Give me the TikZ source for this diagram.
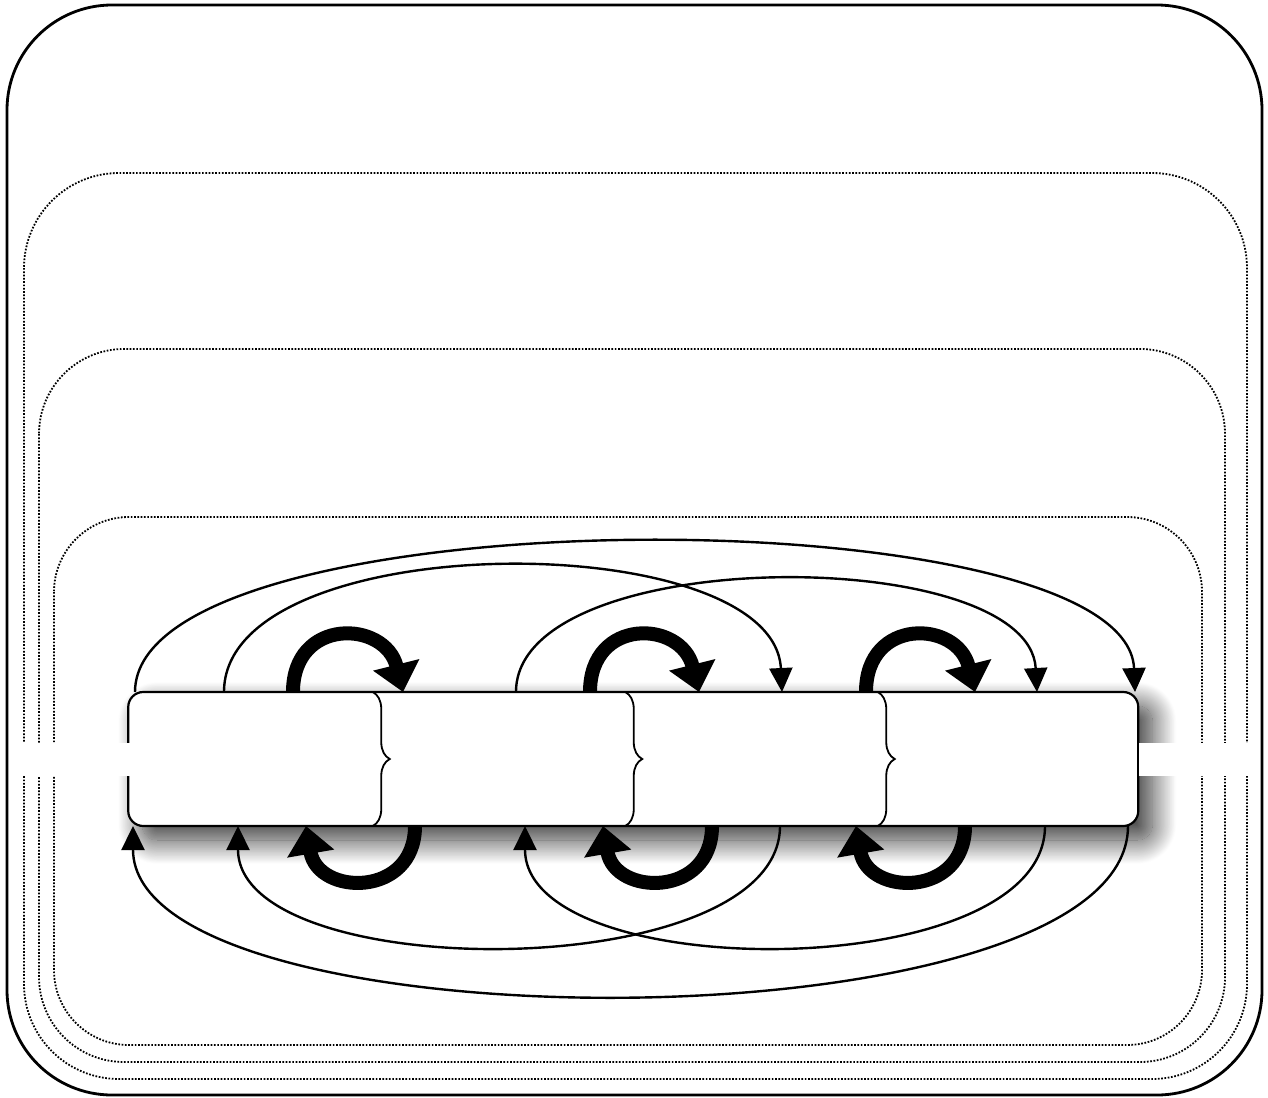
\documentclass[tikz,border=0pt]{standalone}
\usepackage{tikz}
\usetikzlibrary{arrows.meta, positioning, decorations.pathreplacing, shadows.blur}

\begin{document}
\begin{tikzpicture}[x=1pt, y=-1pt,
    blk/.style={minimum width=252.5pt, minimum height=134pt, inner sep=0pt, outer sep=0pt},
    frame/.style={draw=black, line width=2.2pt, fill=white, rounded corners=15pt,
      blur shadow={shadow xshift=14pt, shadow yshift=-14pt, shadow blur radius=24pt,
        shadow blur steps=30, shadow opacity=80}},
    ring/.style={draw=black, line width=1.8pt, dash pattern=on 1.7pt off 1.6pt},
    brc/.style={draw=black, line width=1.8pt, decorate, decoration={brace, amplitude=17pt}},
    arr/.style={-{Triangle[length=24pt,width=23pt]}, draw=black, line width=2.4pt},
    hop/.style={-{Triangle[length=28pt,width=46pt]}, draw=black, line width=14pt},
    gap/.style={draw=white, line width=33pt}]
  \useasboundingbox (0,0) rectangle (1268,1097);
  % enclosing frames
  \draw[line width=2.8pt, rounded corners=105pt] (7,5) rectangle (1262,1095);
  \draw[ring, rounded corners=95pt] (24,173) rectangle (1247,1079);
  \draw[ring, rounded corners=85pt] (39,349) rectangle (1225,1062);
  \draw[ring, rounded corners=75pt] (54,517) rectangle (1202,1045);
  % row of blocks
  \node[blk] (blk1) at (254.5,759) {};
  \node[blk, right=0pt of blk1] (blk2) {};
  \node[blk, right=0pt of blk2] (blk3) {};
  \node[blk, right=0pt of blk3] (blk4) {};
  \draw[frame] (blk1.north west) rectangle (blk4.south east);
  \draw[brc] ([xshift=-8pt]blk1.north east) -- ([xshift=-8pt]blk1.south east);
  \draw[brc] ([xshift=-8pt]blk2.north east) -- ([xshift=-8pt]blk2.south east);
  \draw[brc] ([xshift=-8pt]blk3.north east) -- ([xshift=-8pt]blk3.south east);
  % forward hops (above)
  \draw[arr] ([xshift=-119.5pt]blk1.north) .. controls +(0,-199) and +(-8,-199) .. ([xshift=123pt]blk4.north);
  \draw[arr] ([xshift=-30.5pt]blk1.north) .. controls +(0,-167) and +(-8,-167) .. ([xshift=22.5pt]blk3.north);
  \draw[arr] ([xshift=9pt]blk2.north) .. controls +(0,-149) and +(-8,-149) .. ([xshift=25pt]blk4.north);
  \draw[hop] ([xshift=38.5pt]blk1.north) .. controls +(0,-75) and +(-18,-72) .. ([xshift=-104pt]blk2.north);
  \draw[hop] ([xshift=83pt]blk2.north) .. controls +(0,-75) and +(-18,-72) .. ([xshift=-60.5pt]blk3.north);
  \draw[hop] ([xshift=106.5pt]blk3.north) .. controls +(0,-75) and +(-18,-72) .. ([xshift=-37pt]blk4.north);
  % backward hops (below)
  \draw[arr] ([xshift=116pt]blk4.south) .. controls +(0,225) and +(0,225) .. ([xshift=-121.5pt]blk1.south);
  \draw[arr] ([xshift=20.5pt]blk3.south) .. controls +(0,160) and +(0,160) .. ([xshift=-16.5pt]blk1.south);
  \draw[arr] ([xshift=33pt]blk4.south) .. controls +(0,160) and +(0,160) .. ([xshift=18pt]blk2.south);
  \draw[hop] ([xshift=-92pt]blk2.south) .. controls +(0,72) and +(12,70) .. ([xshift=51.5pt]blk1.south);
  \draw[hop] ([xshift=-47.5pt]blk3.south) .. controls +(0,72) and +(12,70) .. ([xshift=96pt]blk2.south);
  \draw[hop] ([xshift=-47pt]blk4.south) .. controls +(0,72) and +(12,70) .. ([xshift=96.5pt]blk3.south);
  % open ends
  \coordinate (lft) at (12,759);
  \coordinate (rgt) at (1256,759);
  \draw[gap] ([xshift=1.5pt]blk1.west) -- (lft);
  \draw[gap] ([xshift=1pt]blk4.east) -- (rgt);
\end{tikzpicture}
\end{document}
